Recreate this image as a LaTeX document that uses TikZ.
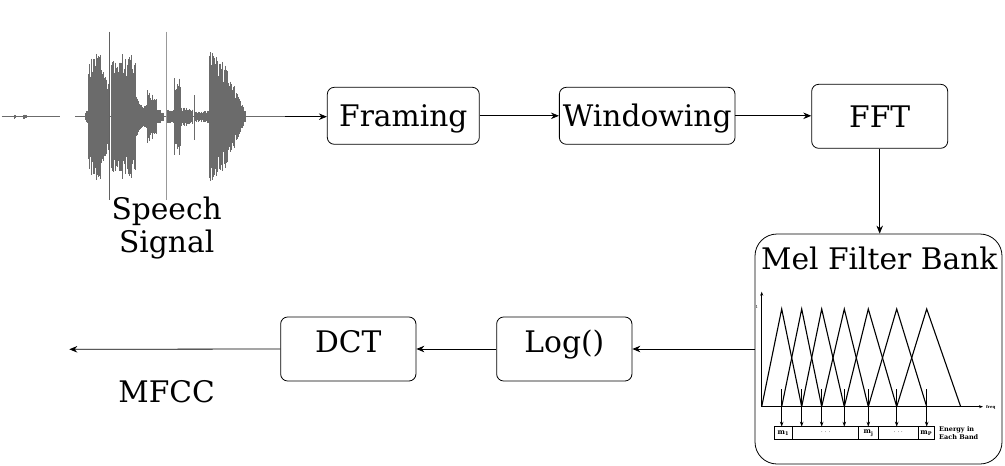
\documentclass[tikz,border=0pt]{standalone}
\usepackage{fontspec}
\setmainfont{DejaVu Serif}
\usetikzlibrary{arrows.meta}
\newcommand\wseg[4]{%
  \pgfmathtruncatemacro\wn{(#2-#1)/0.6}%
  \foreach \i in {0,...,\wn}{%
    \pgfmathsetmacro\wx{#1+\i*0.6}%
    \pgfmathsetmacro\wa{(#3+(#4-#3)*\i/max(\wn,1))*(0.62+0.38*rnd)}%
    \draw[wave] (\wx,116.7-\wa) -- (\wx,116.7+\wa);
  }}
\begin{document}
\begin{tikzpicture}[x=1pt,y=-1pt,
  big/.style={font=\fontsize{29.7}{33}\selectfont},
  box/.style={draw, rounded corners=7pt, line width=0.8pt, inner sep=0pt, big,
    text height=21.6pt, text depth=0pt},
  arr/.style={-{Stealth[length=8pt,width=6.5pt]}, line width=0.8pt},
  wave/.style={line width=0.7pt, draw=black!58},
  filt/.style={line width=1.1pt},
  tiny/.style={font=\fontsize{7}{8}\selectfont\bfseries, inner sep=0pt},
]
\useasboundingbox (0,0) rectangle (1005,466);

% waveform
\pgfmathsetseed{7}
\draw[wave, line width=1.4pt] (1.7,116.7) -- (60,116.7);
\draw[wave, line width=1.4pt] (75,116.7) -- (285,116.7);
\wseg{14}{16}{2}{2}
\wseg{23}{26}{2}{2}
\wseg{85}{88}{3}{9}
\wseg{88}{102}{62}{64}
\wseg{102}{108}{46}{42}
\draw[wave, line width=1pt, draw=black!62] (109.5,31.7) -- (109.5,200);
\wseg{111}{122}{56}{56}
\wseg{122}{136}{64}{60}
\wseg{136}{140}{22}{18}
\wseg{140}{147}{13}{14}
\wseg{147}{157}{27}{20}
\wseg{157}{164}{8}{5}
\draw[wave, line width=1pt, draw=black!40] (166,31.7) -- (166,200);
\wseg{167}{174}{7}{7}
\wseg{174}{180}{43}{40}
\wseg{180}{193}{10}{8}
\draw[wave, line width=1pt] (194,95) -- (194,140);
\wseg{195}{209}{5}{6}
\wseg{209}{227}{66}{52}
\wseg{227}{245}{48}{6}
\coordinate (wend) at (285,116.7);

% boxes
\node[box, minimum width=152pt, minimum height=57pt] (framing) at (403.3,115.8) {Framing};
\node[box, minimum width=175.7pt, minimum height=57pt] (windowing) at (647.2,115.8) {Windowing};
\node[box, minimum width=136pt, minimum height=64pt] (fft) at (879.7,116.3) {FFT};
\node[draw, rounded corners=22pt, line width=0.8pt, minimum width=247pt, minimum height=230pt, inner sep=0pt] (mel) at (878.5,349) {};
\node[big, anchor=base, inner sep=0pt] (meltitle) at (879.3,269) {Mel Filter Bank};
\node[box, text depth=15pt, minimum width=135.3pt, minimum height=64pt] (log) at (564.3,349) {Log()};
\node[box, text depth=15pt, minimum width=135.3pt, minimum height=64pt] (dct) at (348.3,349) {DCT};
\coordinate (mfccend) at (69.3,349.3);

\node[big, anchor=base, align=center, inner sep=0pt] (speech) at (166.7,252) {Speech\\Signal};
\node[big, anchor=base, inner sep=0pt] (mfcc) at (166.7,402.7) {MFCC};

% connectors
\draw[arr] (wend) -- (wend -| framing.west);
\draw[arr] (framing.east) -- (windowing.west);
\draw[arr] (windowing.east) -- (windowing.east -| fft.west);
\draw[arr] (fft.south) -- (fft.south |- mel.north);
\draw[arr] (mel.west) -- (log.east);
\draw[arr] (log.west) -- (dct.east);
\draw[arr] (dct.west) -- (mfccend);

% filter bank plot
\draw[-{Stealth[length=4pt,width=3pt]}, line width=0.8pt] (761.7,406.7) -- (761.7,291.7);
\draw[-{Stealth[length=4pt,width=3pt]}, line width=0.8pt] (761.7,406.7) -- (983,406.7);
\node[font=\fontsize{4}{4}\selectfont, inner sep=0pt] (one) at (757,307.5) {1};
\node[font=\fontsize{4}{4}\selectfont\bfseries, inner sep=0pt, anchor=west] (freq) at (986,407.5) {freq};
\def\feet{{761.7,781.7,801.7,821.7,844.3,868.3,896.7,926.7,960.7}}
\foreach \k in {1,...,7}{
  \pgfmathsetmacro\fa{\feet[\k-1]}
  \pgfmathsetmacro\fb{\feet[\k]}
  \pgfmathsetmacro\fc{\feet[\k+1]}
  \draw[filt, line join=miter] (\fa,406.7) -- (\fb,309) -- (\fc,406.7);
  \draw[-{Stealth[length=5pt,width=3.5pt]}, line width=0.9pt] (\fb,389) -- (\fb,426.7);
}
\draw[line width=0.9pt] (774,426.7) rectangle (934,439.3);
\foreach \d in {792.7,858.7,878.3,918.3}{\draw[line width=0.9pt] (\d,426.7) -- (\d,439.3);}
\node[tiny] (m1) at (783.3,433) {m$_{\mathbf 1}$};
\node[tiny, font=\fontsize{5}{6}\selectfont] (d1) at (825.7,432.5) {. . .};
\node[tiny] (mj) at (868.5,433) {m$_{\mathbf j}$};
\node[tiny, font=\fontsize{5}{6}\selectfont] (d2) at (898.3,432.5) {. . .};
\node[tiny] (mp) at (926.2,433) {m$_{\mathbf P}$};
\node[tiny, font=\fontsize{6.5}{8}\selectfont\bfseries, align=left, anchor=west] (energy) at (939,433) {Energy in\\Each Band};
\end{tikzpicture}
\end{document}
